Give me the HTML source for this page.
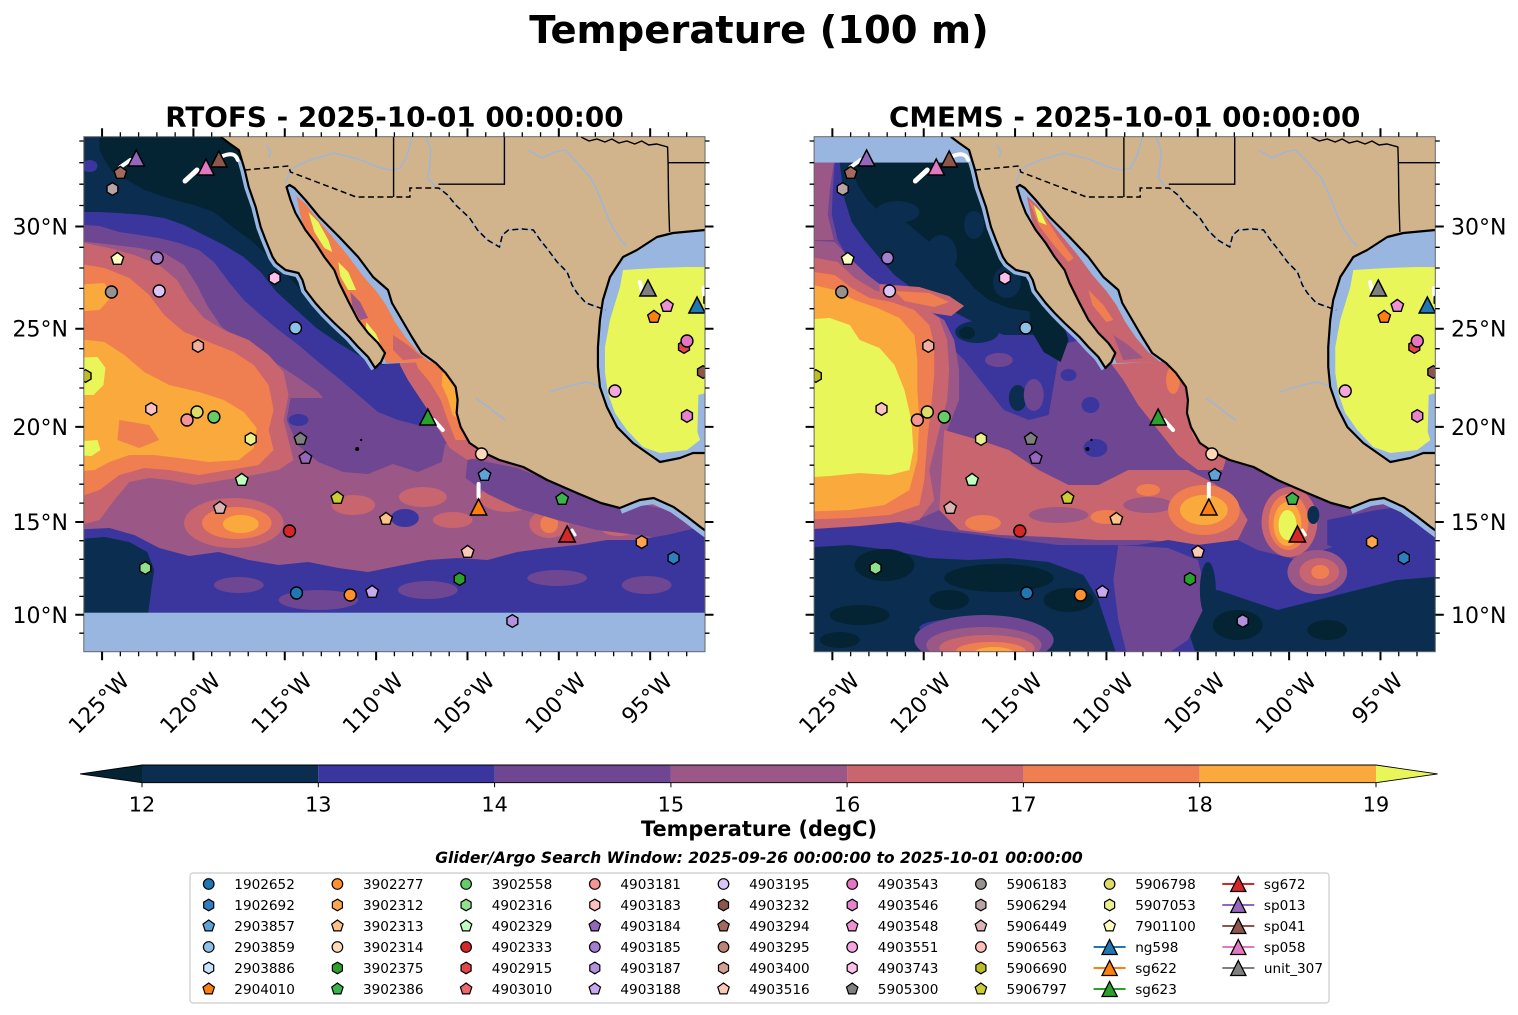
<!DOCTYPE html>
<html><head><meta charset="utf-8">
<style>
html,body{margin:0;padding:0;background:#fff}
svg{display:block}
text{font-family:"DejaVu Sans","Liberation Sans",sans-serif;fill:#000}
</style></head>
<body>
<svg width="1518" height="1015" viewBox="0 0 1518 1015">
<defs>
<clipPath id="cL"><rect x="83.8" y="136.7" width="621.2" height="515"/></clipPath>
<clipPath id="cR"><rect x="814.1" y="136.7" width="621.2" height="515"/></clipPath>
<circle id="c" r="6" stroke="#000" stroke-width="1.4"/>
<polygon id="h" points="0,-6.3 5.46,-3.15 5.46,3.15 0,6.3 -5.46,3.15 -5.46,-3.15" stroke="#000" stroke-width="1.4"/>
<polygon id="p" points="0,-6.6 6.28,-2.04 3.88,5.34 -3.88,5.34 -6.28,-2.04" stroke="#000" stroke-width="1.4"/>
<polygon id="t" points="0,-8 8.2,8 -8.2,8" stroke="#000" stroke-width="1.5"/>
<circle id="lc" r="5.3" stroke="#000" stroke-width="1.2"/>
<polygon id="lh" points="0,-5.8 5.02,-2.9 5.02,2.9 0,5.8 -5.02,2.9 -5.02,-2.9" stroke="#000" stroke-width="1.2"/>
<polygon id="lp" points="0,-6 5.71,-1.85 3.53,4.85 -3.53,4.85 -5.71,-1.85" stroke="#000" stroke-width="1.2"/>
<polygon id="lt" points="0,-7.5 7.6,7.5 -7.6,7.5" stroke="#000" stroke-width="1.3"/>
</defs>

<!-- Titles -->
<text x="759" y="43" font-size="38.5" font-weight="bold" text-anchor="middle">Temperature (100 m)</text>
<text x="394.4" y="126.5" font-size="27.8" font-weight="bold" text-anchor="middle">RTOFS - 2025-10-01 00:00:00</text>
<text x="1124.7" y="126.5" font-size="27.8" font-weight="bold" text-anchor="middle">CMEMS - 2025-10-01 00:00:00</text>

<!-- ================= LEFT PANEL (RTOFS) ================= -->
<g clip-path="url(#cL)">
<g transform="scale(0.9949,1)">
<g id="fL">
<rect x="70" y="120" width="660" height="540" fill="#9b5786"/>
<path fill="#6e4692" d="M70,120 L715,120 L715,300 L470,440 L440,445 L420,448 L400,445 L380,440 L355,430 L335,410 L320,392 L300,378 L280,365 L260,352 L240,340 L222,326 L208,305 L198,285 L185,265 L165,253 L140,248 L115,245 L70,240 Z"/>
<path fill="#3a369e" d="M70,120 L715,120 L715,250 L420,425 L400,420 L380,412 L360,395 L340,378 L320,362 L300,345 L280,330 L262,315 L245,300 L230,282 L215,262 L200,250 L180,243 L160,238 L140,235 L120,232 L100,226 L70,224 Z"/>
<path fill="#0b2d50" d="M70,120 L715,120 L715,200 L385,365 L360,355 L340,343 L318,328 L298,310 L278,292 L262,272 L245,257 L225,245 L205,235 L185,225 L165,218 L145,215 L120,213 L100,212 L70,212 Z"/>
<path fill="#042333" d="M100,120 L300,120 L345,330 L332,322 L315,305 L298,285 L282,268 L268,255 L252,240 L235,228 L215,212 L195,205 L175,200 L160,195 L145,190 L128,180 L113,172 L105,160 L100,150 Z"/>
<ellipse cx="90" cy="166" rx="8" ry="6" fill="#3a369e"/>
<path fill="#6e4692" d="M292,398 L330,398 L370,418 L405,430 L432,426 L448,442 L444,462 L420,472 L395,464 L370,474 L345,472 L320,462 L300,446 L288,420 Z"/>
<ellipse cx="300" cy="420" rx="10" ry="6" fill="#3a369e"/>
<path fill="#c9656e" d="M70,240 L110,248 L135,255 L160,265 L178,280 L190,300 L205,318 L225,330 L250,340 L270,355 L285,372 L290,395 L285,420 L290,440 L295,460 L280,470 L255,475 L225,480 L195,485 L170,480 L150,478 L130,482 L115,500 L100,520 L70,528 Z"/>
<path fill="#ef7f50" d="M70,262 L105,268 L130,278 L150,295 L165,315 L185,332 L210,342 L235,352 L255,365 L270,385 L275,410 L270,430 L275,450 L260,465 L230,470 L200,475 L170,470 L145,468 L120,475 L100,490 L70,500 Z"/>
<path fill="#faa93d" d="M70,285 L105,283 L112,297 L100,310 L70,312 Z"/>
<path fill="#faa93d" d="M70,338 L105,342 L125,355 L145,372 L170,385 L200,392 L225,400 L245,412 L258,428 L255,448 L240,460 L210,462 L180,458 L155,455 L130,455 L110,462 L95,470 L70,472 Z"/>
<path fill="#ef7f50" d="M120,420 L150,425 L160,440 L140,448 L118,440 Z"/>
<path fill="#e8f65a" d="M70,358 L98,357 L106,368 L104,385 L94,395 L70,395 Z"/>
<path fill="#e8f65a" d="M70,442 L98,440 L101,450 L92,456 L70,455 Z"/>
<ellipse cx="235" cy="523" rx="50" ry="25" fill="#c9656e"/>
<ellipse cx="238" cy="523" rx="35" ry="16" fill="#ef7f50"/>
<ellipse cx="242" cy="524" rx="18" ry="9" fill="#faa93d"/>
<ellipse cx="510" cy="498" rx="28" ry="14" fill="#c9656e"/>
<ellipse cx="552" cy="524" rx="20" ry="14" fill="#c9656e"/>
<ellipse cx="622" cy="528" rx="18" ry="8" fill="#c9656e"/>
<ellipse cx="425" cy="497" rx="24" ry="10" fill="#c9656e"/>
<ellipse cx="355" cy="505" rx="22" ry="10" fill="#c9656e"/>
<ellipse cx="455" cy="520" rx="20" ry="8" fill="#c9656e"/>
<ellipse cx="552" cy="524" rx="9" ry="9" fill="#ef7f50"/>
<ellipse cx="515" cy="498" rx="10" ry="5" fill="#ef7f50"/>
<ellipse cx="407" cy="518" rx="14" ry="9" fill="#3a369e"/>
<path fill="#6e4692" d="M470,458 L520,468 L560,484 L600,498 L640,503 L690,514 L715,525 L715,545 L680,540 L640,535 L600,530 L560,520 L520,508 L490,494 L468,478 Z"/>
<path fill="#3a369e" d="M70,530 L110,528 L135,535 L160,548 L190,556 L220,552 L250,560 L280,565 L310,562 L340,568 L370,572 L400,566 L430,560 L460,558 L490,560 L520,552 L550,548 L580,545 L610,540 L640,540 L670,535 L700,528 L715,525 L715,620 L70,620 Z"/>
<ellipse cx="320" cy="600" rx="40" ry="10" fill="#6e4692"/>
<ellipse cx="430" cy="590" rx="30" ry="9" fill="#6e4692"/>
<ellipse cx="560" cy="578" rx="30" ry="8" fill="#6e4692"/>
<ellipse cx="650" cy="585" rx="25" ry="9" fill="#6e4692"/>
<ellipse cx="240" cy="585" rx="25" ry="8" fill="#6e4692"/>
<path fill="#0b2d50" d="M70,540 L105,537 L130,542 L148,552 L155,570 L152,590 L148,620 L70,620 Z"/>
<path fill="#c9656e" d="M400,345 L425,352 L445,368 L462,390 L470,415 L476,440 L492,455 L470,460 L452,448 L440,428 L430,410 L420,395 L410,380 L402,365 Z"/>
<path fill="#ef7f50" d="M415,352 L440,362 L455,380 L463,400 L466,420 L468,440 L458,440 L450,420 L443,400 L432,382 L420,368 Z"/>
<path fill="#faa93d" d="M445,372 L456,385 L461,402 L462,420 L455,415 L450,398 L444,385 Z"/>
<rect x="70" y="612.7" width="660" height="50" fill="#98b6df"/>
</g>
<g id="gcBlue"><path fill="#98b6df" d="M282,183 L296,183 L312,197 L327,214 L347,234 L366,254 L381,274 L396,287 L400,300 L410,317 L420,334 L430,350 L444,361 L384,364 L380,356 L374,346 L364,336 L354,323 L345,306 L335,286 L330,273 L320,260 L311,246 L301,233 L291,216 L286,202 Z"/></g>
<path fill="#ef7f50" d="M298,196 L308,205 L320,220 L335,238 L350,256 L364,275 L378,291 L388,305 L397,322 L408,338 L420,352 L432,362 L388,363 L384,352 L375,340 L365,326 L354,308 L344,290 L334,273 L322,256 L311,238 L303,220 Z"/>
<path fill="#e8f65a" d="M310,212 L320,222 L330,240 L334,252 L326,248 L316,232 Z M340,262 L350,272 L358,290 L350,290 L342,276 Z M368,322 L378,334 L384,348 L376,346 L368,333 Z"/>
<path fill="#9b5786" d="M352,292 L362,302 L370,318 L362,320 L354,306 Z"/>
<path fill="#c9656e" d="M395,335 L410,345 L425,358 L405,360 L395,350 Z"/>

<g id="landG">
<rect x="590" y="220" width="130" height="250" fill="#98b6df"/>
<path fill="#e8f65a" d="M626.2,270 L660,268 L690,267 L720,267 L720,390 L702,395 L701,432 L703.6,440 L690.5,450 L663.4,453 L646.3,447 L630.2,430 L618.1,413 L611.1,393 L608.1,373 L608.1,347 L613.1,320 L623.2,287 Z"/>
<path fill="none" stroke="#98b6df" stroke-width="9" d="M243,160 L246,170 L250,187 L257,207 L262,227 L267,240 L274,257 L278,263 L287,270 L300,273 L304,280 L307,290 L317,303 L326,313 L336,323 L351,337 L360,347 L370,357 L377,368"/>
<path fill="none" stroke="#98b6df" stroke-width="12" d="M623,508 L643,500 L657,498 L677,507 L691,517 L704,527 L715,535"/>
<path fill="#d1b48c" d="M222,130 L222,137 L230,143 L240,150 L243,160 L246,170 L250,187 L257,207 L262,227 L267,240 L274,257 L278,263 L287,270 L300,273 L304,280 L307,290 L317,303 L326,313 L336,323 L351,337 L360,347 L370,357 L377,368 L383,362 L387,353 L380,343 L370,333 L360,320 L351,303 L341,283 L336,270 L326,257 L317,243 L307,230 L297,213 L292,200 L288,187 L291,185 L296,188 L307,200 L321,217 L341,237 L360,257 L375,277 L390,290 L394,303 L404,320 L414,337 L424,353 L438,363 L448,373 L458,387 L460,400 L459,413 L463,427 L472,443 L487,453 L502,460 L526,467 L550,480 L580,493 L604,503 L623,508 L643,500 L657,498 L677,507 L691,517 L704,527 L715,535 L715,453 L708.6,453 L696.5,453 L683.5,458 L663.4,462 L656.3,457 L636.2,443 L620.2,427 L610,407 L603,387 L601,367 L601,347 L603,320 L606,300 L613.1,277 L626.2,257 L640.2,250 L660.3,237 L676.4,233 L708.6,230 L715,230 L715,130 Z"/>
<g fill="none" stroke="#99b6df" stroke-width="1.4">
<path d="M287,183 L292,170 L300,165 L312,160 L336,153 L360,159 L380,167 L392,170 L402,168 L408,158 L412,146 L414,137"/>
<path d="M268,145 L272,152 L270,158"/>
<path d="M428,137 L433,150 L432,165 L430,178 L438,187"/>
<path d="M531,150 L545,158 L558,152 L568,150 L576,158 L585,168 L594,178 L600,190 L604,200 L610,215 L616,228 L624,240 L630,246"/>
<path d="M553,392 L565,388 L580,384 L590,382 L602,386"/>
<path d="M478,398 L488,405 L497,412 L508,420"/>
<path d="M441,188 L450,195 L458,205 L472,218 L480,230 L490,240 L502,247 L505,235 L511,230 L525,229 L536,230 L543,240 L551,250 L560,262 L570,272 L575,285 L580,293 L589,303 L609,310"/>
</g>
<g fill="none" stroke="#000" stroke-width="1.4">
<path d="M395.6,130 L395.6,197"/>
<path d="M440.7,184.2 L507,184.2 L507,130"/>
<path d="M584,137 L592,141 L600,139 L608,142 L615,139 L622,143 L630,141 L638,144 L645,141 L652,145 L660,144 L671,147 L671.5,162.7 L715,162.7"/>
<path d="M671.5,162.7 L672,200 L673,232"/>
</g>
<path fill="none" stroke="#000" stroke-width="1.5" stroke-dasharray="6,3.5" d="M246,170 L290,166 L292,172 L358,197 L412,197 L412,188 L441,188 L450,195 L458,205 L472,218 L480,230 L490,240 L502,247 L505,235 L511,230 L525,229 L536,230 L543,240 L551,250 L560,262 L570,272 L575,285 L580,293 L589,303 L609,310"/>
<path fill="none" stroke="#000" stroke-width="2.2" stroke-linejoin="round" d="M222,130 L222,137 L230,143 L240,150 L243,160 L246,170 L250,187 L257,207 L262,227 L267,240 L274,257 L278,263 L287,270 L300,273 L304,280 L307,290 L317,303 L326,313 L336,323 L351,337 L360,347 L370,357 L377,368 L383,362 L387,353 L380,343 L370,333 L360,320 L351,303 L341,283 L336,270 L326,257 L317,243 L307,230 L297,213 L292,200 L288,187 L291,185 L296,188 L307,200 L321,217 L341,237 L360,257 L375,277 L390,290 L394,303 L404,320 L414,337 L424,353 L438,363 L448,373 L458,387 L460,400 L459,413 L463,427 L472,443 L487,453 L502,460 L526,467 L550,480 L580,493 L604,503 L623,508 L643,500 L657,498 L677,507 L691,517 L704,527 L715,535"/>
<path fill="none" stroke="#000" stroke-width="2.2" stroke-linejoin="round" d="M715,453 L708.6,453 L696.5,453 L683.5,458 L663.4,462 L656.3,457 L636.2,443 L620.2,427 L610,407 L603,387 L601,367 L601,347 L603,320 L606,300 L613.1,277 L626.2,257 L640.2,250 L660.3,237 L676.4,233 L708.6,230 L715,230"/>
</g>

<g id="mk">
<g fill="none" stroke="#fff" stroke-width="4" stroke-linecap="round">
<path d="M121,167 L131,160"/><path d="M186,181 L198,170" stroke-width="5"/><path d="M224,156 Q236,151 239,160"/>
<path d="M436,420 L445,430"/><path d="M481,484 L481,497"/><path d="M575,530 L578,535" stroke-width="3"/>
<path d="M643,282 L645,290"/><path d="M707,288 L708,298"/>
</g>
<circle cx="359" cy="449" r="2" fill="#000"/><circle cx="363" cy="440" r="1.2" fill="#000"/>
<use href="#h" x="113" y="189" fill="#b8a4a4"/>
<use href="#p" x="121" y="173" fill="#a26a5e"/>
<use href="#p" x="118" y="259" fill="#ffffc0"/>
<use href="#c" x="158" y="258" fill="#a27fcf"/>
<use href="#c" x="112" y="292" fill="#999090"/>
<use href="#c" x="160" y="291" fill="#dcc4f8"/>
<use href="#h" x="276" y="278" fill="#fbbfe9"/>
<use href="#c" x="297" y="328" fill="#8ec1e8"/>
<use href="#h" x="199" y="346" fill="#f0b0a0"/>
<use href="#h" x="86" y="376" fill="#bcbd22"/>
<use href="#p" x="670.4" y="306" fill="#ee92d4"/>
<use href="#p" x="657.3" y="317" fill="#ff7f0e"/>
<use href="#h" x="713" y="300" fill="#ff9030"/>
<use href="#h" x="687.5" y="347" fill="#e0474a"/>
<use href="#c" x="690.5" y="341" fill="#e377c2"/>
<use href="#h" x="706.6" y="372" fill="#8c564b"/>
<use href="#c" x="618.1" y="391" fill="#f5a6df"/>
<use href="#h" x="690.5" y="416" fill="#e884cb"/>
<use href="#h" x="152" y="409" fill="#ffc0c0"/>
<use href="#c" x="188" y="420" fill="#f59595"/>
<use href="#c" x="198" y="412" fill="#dcdc66"/>
<use href="#c" x="215" y="417" fill="#66cc66"/>
<use href="#h" x="252" y="439" fill="#ebf08c"/>
<use href="#p" x="302" y="439" fill="#7f7f7f"/>
<use href="#p" x="307" y="458" fill="#9467bd"/>
<use href="#c" x="484" y="454" fill="#ffdab9"/>
<use href="#p" x="487" y="475" fill="#5fa2d8"/>
<use href="#p" x="243" y="480" fill="#bfffbf"/>
<use href="#p" x="221" y="508" fill="#dcb4b4"/>
<use href="#p" x="339" y="498" fill="#cccc33"/>
<use href="#p" x="388" y="519" fill="#ffc18a"/>
<use href="#c" x="291" y="531" fill="#d62728"/>
<use href="#p" x="565" y="499" fill="#3cb44b"/>
<use href="#h" x="645" y="542" fill="#ffa550"/>
<use href="#p" x="470" y="552" fill="#fcc8b8"/>
<use href="#h" x="677" y="558" fill="#2f7fc0"/>
<use href="#h" x="146" y="568" fill="#8fe08f"/>
<use href="#h" x="462" y="579" fill="#2ca02c"/>
<use href="#c" x="298" y="593" fill="#1f77b4"/>
<use href="#c" x="352" y="595" fill="#ff9030"/>
<use href="#p" x="374" y="592" fill="#c8a8f0"/>
<use href="#h" x="515" y="621" fill="#b490dd"/>
<use href="#t" x="137" y="158" fill="#9467bd"/>
<use href="#t" x="207" y="167" fill="#e377c2"/>
<use href="#t" x="220" y="159" fill="#8c564b"/>
<use href="#t" x="651.3" y="288" fill="#7f7f7f"/>
<use href="#t" x="700.6" y="305" fill="#1f77b4"/>
<use href="#t" x="430" y="417" fill="#2ca02c"/>
<use href="#t" x="481" y="507" fill="#ff7f0e"/>
<use href="#t" x="570" y="534" fill="#d62728"/>
</g>
</g>
</g>

<!-- ================= RIGHT PANEL (CMEMS) ================= -->
<g clip-path="url(#cR)">
<g transform="translate(730.3,0) scale(0.9949,1)">
<g transform="translate(-730,0)">
<rect x="800" y="120" width="660" height="540" fill="#6e4692"/>
<rect x="800" y="120" width="660" height="42.7" fill="#98b6df"/>
<path fill="#9b5786" d="M800,162.7 L834,162.7 L830,190 L828,215 L834,240 L800,240 Z"/>
<path fill="#3a369e" d="M835,162.7 L1160,162.7 L1160,330 L1100,335 L1062,345 L1056,380 L1050,415 L1030,420 L1005,410 L985,385 L965,360 L950,345 L935,335 L915,322 L895,305 L875,290 L860,275 L848,258 L838,240 L832,215 L833,190 Z"/>
<path fill="#0b2d50" d="M840,162.7 L1110,162.7 L1110,320 L1060,330 L1035,335 L1005,335 L980,325 L955,312 L935,300 L915,290 L895,275 L880,258 L865,240 L852,222 L845,200 L842,180 Z"/>
<path fill="#042333" d="M850,162.7 L1070,162.7 L1070,310 L1035,312 L1010,308 L990,300 L975,288 L960,270 L945,252 L925,238 L910,225 L895,215 L880,212 L868,200 L858,185 Z"/>
<ellipse cx="898" cy="212" rx="22" ry="11" fill="#0b2d50"/>
<ellipse cx="942" cy="255" rx="16" ry="20" fill="#0b2d50"/>
<ellipse cx="1008" cy="282" rx="14" ry="16" fill="#0b2d50"/>
<ellipse cx="975" cy="225" rx="10" ry="14" fill="#0b2d50"/>
<path fill="#042333" d="M1030,300 L1060,310 L1070,340 L1062,362 L1045,352 L1032,330 Z"/>
<ellipse cx="978" cy="332" rx="22" ry="11" fill="#0b2d50"/>
<ellipse cx="968" cy="333" rx="8" ry="6" fill="#042333"/>
<ellipse cx="1019" cy="398" rx="9" ry="13" fill="#0b2d50"/>
<ellipse cx="1000" cy="360" rx="14" ry="7" fill="#6e4692"/>
<ellipse cx="1035" cy="395" rx="10" ry="16" fill="#6e4692"/>
<ellipse cx="1092" cy="405" rx="9" ry="8" fill="#3a369e"/>
<ellipse cx="1097" cy="448" rx="12" ry="9" fill="#3a369e"/>
<ellipse cx="1070" cy="375" rx="8" ry="6" fill="#3a369e"/>
<path fill="#9b5786" d="M800,240 L835,242 L850,258 L868,275 L888,290 L908,302 L928,310 L945,320 L955,340 L960,370 L960,400 L948,430 L945,470 L940,510 L900,528 L850,533 L800,538 Z"/>
<path fill="#c9656e" d="M800,255 L838,262 L855,278 L875,290 L898,298 L920,305 L940,318 L948,340 L950,370 L948,400 L940,430 L930,470 L935,500 L920,520 L880,525 L840,528 L800,530 Z"/>
<path fill="#c9656e" d="M880,284 L920,287 L950,296 L965,306 L952,316 L925,312 L900,306 L880,298 Z"/>
<path fill="#ef7f50" d="M800,270 L835,275 L852,288 L870,298 L892,302 L915,310 L930,325 L935,345 L935,375 L932,405 L928,440 L925,480 L920,505 L890,515 L850,518 L800,520 Z"/>
<path fill="#ef7f50" d="M895,291 L930,293 L950,302 L935,307 L905,301 Z"/>
<path fill="#faa93d" d="M800,282 L835,290 L855,300 L878,308 L900,318 L915,335 L918,360 L918,390 L920,420 L918,460 L910,490 L885,505 L850,510 L800,512 Z"/>
<path fill="#e8f65a" d="M800,320 L830,318 L850,325 L860,340 L880,348 L895,365 L905,390 L912,420 L914,450 L910,470 L890,475 L860,473 L830,476 L800,478 Z"/>
<path fill="#c9656e" d="M945,430 L980,440 L1010,450 L1040,470 L1070,485 L1100,485 L1130,470 L1160,470 L1190,470 L1210,480 L1235,495 L1250,520 L1240,540 L1200,545 L1150,540 L1100,540 L1050,537 L1000,535 L960,530 L940,510 Z"/>
<ellipse cx="1060" cy="515" rx="30" ry="8" fill="#9b5786"/>
<ellipse cx="1150" cy="505" rx="25" ry="8" fill="#9b5786"/>
<ellipse cx="984" cy="523" rx="18" ry="8" fill="#ef7f50"/>
<ellipse cx="1108" cy="517" rx="16" ry="7" fill="#ef7f50"/>
<ellipse cx="1150" cy="490" rx="12" ry="6" fill="#ef7f50"/>
<path fill="#c9656e" d="M1114,300 L1140,320 L1165,345 L1185,370 L1200,395 L1215,420 L1234,440 L1225,470 L1200,470 L1180,455 L1160,430 L1140,405 L1125,380 L1110,360 L1105,330 Z"/>
<ellipse cx="1150" cy="345" rx="8" ry="12" fill="#ef7f50"/>
<ellipse cx="1175" cy="380" rx="7" ry="14" fill="#ef7f50"/>
<ellipse cx="1200" cy="430" rx="6" ry="10" fill="#ef7f50"/>
<path fill="#3a369e" d="M1330,520 L1380,510 L1420,505 L1460,500 L1460,560 L1400,560 L1360,555 L1330,545 Z"/>
<path fill="#3a369e" d="M800,530 L860,526 L900,522 L940,530 L980,535 L1020,540 L1060,545 L1100,545 L1140,545 L1170,540 L1200,545 L1240,540 L1260,550 L1300,560 L1340,545 L1380,540 L1460,530 L1460,660 L800,660 Z"/>
<path fill="#0b2d50" d="M800,548 L850,545 L890,550 L930,558 L970,560 L1010,558 L1050,562 L1085,575 L1100,600 L1110,630 L1120,660 L800,660 Z"/>
<path fill="#0b2d50" d="M1180,600 L1220,590 L1250,600 L1280,610 L1320,600 L1360,590 L1400,580 L1460,575 L1460,660 L1200,660 Z"/>
<ellipse cx="885" cy="565" rx="30" ry="16" fill="#042333"/>
<ellipse cx="1000" cy="578" rx="55" ry="14" fill="#042333"/>
<ellipse cx="1070" cy="600" rx="25" ry="12" fill="#042333"/>
<ellipse cx="860" cy="615" rx="30" ry="10" fill="#042333"/>
<ellipse cx="950" cy="600" rx="20" ry="10" fill="#042333"/>
<ellipse cx="1240" cy="625" rx="25" ry="15" fill="#042333"/>
<ellipse cx="1330" cy="630" rx="20" ry="10" fill="#042333"/>
<ellipse cx="840" cy="640" rx="20" ry="8" fill="#042333"/>
<ellipse cx="960" cy="628" rx="40" ry="9" fill="#3a369e"/>
<path fill="#6e4692" d="M1120,545 L1170,548 L1200,560 L1210,600 L1190,640 L1160,660 L1130,660 L1120,620 L1115,580 Z"/>
<ellipse cx="1210" cy="590" rx="8" ry="28" fill="#0b2d50"/>
<ellipse cx="985" cy="640" rx="70" ry="25" fill="#6e4692"/>
<ellipse cx="985" cy="645" rx="58" ry="18" fill="#9b5786"/>
<ellipse cx="988" cy="648" rx="48" ry="13" fill="#c9656e"/>
<ellipse cx="992" cy="651" rx="35" ry="9" fill="#ef7f50"/>
<ellipse cx="995" cy="653" rx="20" ry="6" fill="#faa93d"/>
<ellipse cx="1320" cy="572" rx="30" ry="22" fill="#9b5786"/>
<ellipse cx="1322" cy="572" rx="20" ry="14" fill="#c9656e"/>
<ellipse cx="1323" cy="572" rx="9" ry="7" fill="#ef7f50"/>
<ellipse cx="1206" cy="510" rx="36" ry="25" fill="#ef7f50"/>
<ellipse cx="1206" cy="510" rx="24" ry="15" fill="#faa93d"/>
<ellipse cx="1292" cy="522" rx="28" ry="35" fill="#c9656e"/>
<ellipse cx="1291" cy="522" rx="20" ry="28" fill="#ef7f50"/>
<ellipse cx="1290" cy="524" rx="14" ry="22" fill="#faa93d"/>
<ellipse cx="1290" cy="525" rx="9" ry="15" fill="#e8f65a"/>
<ellipse cx="1316" cy="515" rx="6" ry="9" fill="#0b2d50"/>
</g>
<use href="#gcBlue"/>
<path fill="#c9656e" d="M298,196 L308,205 L320,220 L335,238 L350,256 L364,275 L378,291 L388,305 L397,322 L408,338 L420,352 L432,362 L388,363 L384,352 L375,340 L365,326 L354,308 L344,290 L334,273 L322,256 L311,238 L303,220 Z"/>
<path fill="#ef7f50" d="M300,200 L315,215 L330,238 L345,258 L340,262 L325,245 L310,225 Z M360,290 L375,305 L385,320 L378,322 L364,305 Z"/>
<path fill="#e8f65a" d="M305,205 L312,212 L318,225 L310,222 Z"/>
<path fill="#9b5786" d="M385,335 L400,345 L415,358 L395,360 Z"/>
<use href="#landG"/>
<use href="#mk"/>
</g>
</g>

<!-- frames -->
<rect x="83.8" y="136.7" width="621.2" height="515" fill="none" stroke="#666" stroke-width="1"/>
<rect x="814.1" y="136.7" width="621.2" height="515" fill="none" stroke="#666" stroke-width="1"/>

<!-- ticks -->
<g id="ticksL" stroke="#000" fill="none">
<path stroke-width="2" d="M102.07 136.7v-8.5M193.42 136.7v-8.5M284.77 136.7v-8.5M376.12 136.7v-8.5M467.47 136.7v-8.5M558.82 136.7v-8.5M650.17 136.7v-8.5M102.07 651.7v8.5M193.42 651.7v8.5M284.77 651.7v8.5M376.12 651.7v8.5M467.47 651.7v8.5M558.82 651.7v8.5M650.17 651.7v8.5M83.8 226.5h-8.5M83.8 328.7h-8.5M83.8 426.9h-8.5M83.8 522h-8.5M83.8 614.8h-8.5M705 226.5h8.5M705 328.7h8.5M705 426.9h8.5M705 522h8.5M705 614.8h8.5"/>
<path stroke-width="1.3" d="M120.34 136.7v-4.5M138.61 136.7v-4.5M156.88 136.7v-4.5M175.15 136.7v-4.5M211.69 136.7v-4.5M229.96 136.7v-4.5M248.23 136.7v-4.5M266.5 136.7v-4.5M303.04 136.7v-4.5M321.31 136.7v-4.5M339.58 136.7v-4.5M357.85 136.7v-4.5M394.39 136.7v-4.5M412.66 136.7v-4.5M430.93 136.7v-4.5M449.2 136.7v-4.5M485.74 136.7v-4.5M504.01 136.7v-4.5M522.28 136.7v-4.5M540.55 136.7v-4.5M577.09 136.7v-4.5M595.36 136.7v-4.5M613.63 136.7v-4.5M631.9 136.7v-4.5M668.44 136.7v-4.5M686.71 136.7v-4.5
M120.34 651.7v4.5M138.61 651.7v4.5M156.88 651.7v4.5M175.15 651.7v4.5M211.69 651.7v4.5M229.96 651.7v4.5M248.23 651.7v4.5M266.5 651.7v4.5M303.04 651.7v4.5M321.31 651.7v4.5M339.58 651.7v4.5M357.85 651.7v4.5M394.39 651.7v4.5M412.66 651.7v4.5M430.93 651.7v4.5M449.2 651.7v4.5M485.74 651.7v4.5M504.01 651.7v4.5M522.28 651.7v4.5M540.55 651.7v4.5M577.09 651.7v4.5M595.36 651.7v4.5M613.63 651.7v4.5M631.9 651.7v4.5M668.44 651.7v4.5M686.71 651.7v4.5
M83.8 141h-4.5M83.8 162.7h-4.5M83.8 184.2h-4.5M83.8 205.5h-4.5M83.8 247.3h-4.5M83.8 268h-4.5M83.8 288.4h-4.5M83.8 308.7h-4.5M83.8 348.7h-4.5M83.8 368.4h-4.5M83.8 388h-4.5M83.8 407.5h-4.5M83.8 446.1h-4.5M83.8 465.2h-4.5M83.8 484.2h-4.5M83.8 503.1h-4.5M83.8 540.7h-4.5M83.8 559.3h-4.5M83.8 577.9h-4.5M83.8 596.4h-4.5M83.8 633.2h-4.5
M705 141h4.5M705 162.7h4.5M705 184.2h4.5M705 205.5h4.5M705 247.3h4.5M705 268h4.5M705 288.4h4.5M705 308.7h4.5M705 348.7h4.5M705 368.4h4.5M705 388h4.5M705 407.5h4.5M705 446.1h4.5M705 465.2h4.5M705 484.2h4.5M705 503.1h4.5M705 540.7h4.5M705 559.3h4.5M705 577.9h4.5M705 596.4h4.5M705 633.2h4.5"/>
</g>
<use href="#ticksL" transform="translate(730.3,0)"/>

<!-- tick labels -->
<g font-size="22">
<text x="68" y="234.5" text-anchor="end">30°N</text>
<text x="68" y="336.7" text-anchor="end">25°N</text>
<text x="68" y="434.9" text-anchor="end">20°N</text>
<text x="68" y="530" text-anchor="end">15°N</text>
<text x="68" y="622.8" text-anchor="end">10°N</text>
<text x="1451" y="234.5">30°N</text>
<text x="1451" y="336.7">25°N</text>
<text x="1451" y="434.9">20°N</text>
<text x="1451" y="530">15°N</text>
<text x="1451" y="622.8">10°N</text>
<g text-anchor="middle" dominant-baseline="central">
<text transform="translate(99.6,704) rotate(-45)">125°W</text>
<text transform="translate(190.9,704) rotate(-45)">120°W</text>
<text transform="translate(282.3,704) rotate(-45)">115°W</text>
<text transform="translate(373.6,704) rotate(-45)">110°W</text>
<text transform="translate(465,704) rotate(-45)">105°W</text>
<text transform="translate(556.3,704) rotate(-45)">100°W</text>
<text transform="translate(647.7,699) rotate(-45)">95°W</text>
<text transform="translate(829.9,704) rotate(-45)">125°W</text>
<text transform="translate(921.2,704) rotate(-45)">120°W</text>
<text transform="translate(1012.6,704) rotate(-45)">115°W</text>
<text transform="translate(1103.9,704) rotate(-45)">110°W</text>
<text transform="translate(1195.3,704) rotate(-45)">105°W</text>
<text transform="translate(1286.6,704) rotate(-45)">100°W</text>
<text transform="translate(1378,699) rotate(-45)">95°W</text>
</g>
</g>

<!-- colorbar -->
<g>
<polygon points="80.1,773.9 142,765 142,782.7" fill="#042333"/>
<rect x="142" y="765" width="176.3" height="17.7" fill="#0b2d50"/>
<rect x="318.3" y="765" width="176.3" height="17.7" fill="#3a369e"/>
<rect x="494.6" y="765" width="176.3" height="17.7" fill="#6e4692"/>
<rect x="670.9" y="765" width="176.3" height="17.7" fill="#9b5786"/>
<rect x="847.1" y="765" width="176.3" height="17.7" fill="#c9656e"/>
<rect x="1023.4" y="765" width="176.3" height="17.7" fill="#ef7f50"/>
<rect x="1199.7" y="765" width="176.3" height="17.7" fill="#faa93d"/>
<polygon points="1376,765 1437.6,773.9 1376,782.7" fill="#e8f65a"/>
<polygon points="80.1,773.9 142,765 1376,765 1437.6,773.9 1376,782.7 142,782.7" fill="none" stroke="#000" stroke-width="0.9"/>
<path stroke="#000" stroke-width="1" d="M142 782.7v4.5M318.3 782.7v4.5M494.6 782.7v4.5M670.9 782.7v4.5M847.1 782.7v4.5M1023.4 782.7v4.5M1199.7 782.7v4.5M1376 782.7v4.5"/>
<g font-size="20.8" text-anchor="middle">
<text x="142" y="811.5">12</text><text x="318.3" y="811.5">13</text><text x="494.6" y="811.5">14</text><text x="670.9" y="811.5">15</text>
<text x="847.1" y="811.5">16</text><text x="1023.4" y="811.5">17</text><text x="1199.7" y="811.5">18</text><text x="1376" y="811.5">19</text>
</g>
<text x="759" y="836" font-size="20.9" font-weight="bold" text-anchor="middle">Temperature (degC)</text>
<text x="759" y="863" font-size="15.6" font-weight="bold" font-style="italic" text-anchor="middle">Glider/Argo Search Window: 2025-09-26 00:00:00 to 2025-10-01 00:00:00</text>
</g>

<!-- legend -->
<rect x="190" y="873" width="1139" height="130" rx="3" fill="#fff" stroke="#cccccc" stroke-width="1.2"/>
<g font-size="13.6">
<use href="#lc" x="208.7" y="884" fill="#1f77b4"/><text x="234.3" y="889">1902652</text>
<use href="#lh" x="208.7" y="905" fill="#2f7fc0"/><text x="234.3" y="910">1902692</text>
<use href="#lp" x="208.7" y="926" fill="#5fa2d8"/><text x="234.3" y="931">2903857</text>
<use href="#lc" x="208.7" y="947" fill="#8ec1e8"/><text x="234.3" y="952">2903859</text>
<use href="#lh" x="208.7" y="968" fill="#c6e3fb"/><text x="234.3" y="973">2903886</text>
<use href="#lp" x="208.7" y="989" fill="#ff7f0e"/><text x="234.3" y="994">2904010</text>

<use href="#lc" x="337.4" y="884" fill="#ff9030"/><text x="363" y="889">3902277</text>
<use href="#lh" x="337.4" y="905" fill="#ffa550"/><text x="363" y="910">3902312</text>
<use href="#lp" x="337.4" y="926" fill="#ffc18a"/><text x="363" y="931">3902313</text>
<use href="#lc" x="337.4" y="947" fill="#ffdab9"/><text x="363" y="952">3902314</text>
<use href="#lh" x="337.4" y="968" fill="#2ca02c"/><text x="363" y="973">3902375</text>
<use href="#lp" x="337.4" y="989" fill="#3cb44b"/><text x="363" y="994">3902386</text>

<use href="#lc" x="466.1" y="884" fill="#66cc66"/><text x="491.7" y="889">3902558</text>
<use href="#lh" x="466.1" y="905" fill="#8fe08f"/><text x="491.7" y="910">4902316</text>
<use href="#lp" x="466.1" y="926" fill="#bfffbf"/><text x="491.7" y="931">4902329</text>
<use href="#lc" x="466.1" y="947" fill="#d62728"/><text x="491.7" y="952">4902333</text>
<use href="#lh" x="466.1" y="968" fill="#e0474a"/><text x="491.7" y="973">4902915</text>
<use href="#lp" x="466.1" y="989" fill="#ec6a6a"/><text x="491.7" y="994">4903010</text>

<use href="#lc" x="594.8" y="884" fill="#f59595"/><text x="620.4" y="889">4903181</text>
<use href="#lh" x="594.8" y="905" fill="#ffc0c0"/><text x="620.4" y="910">4903183</text>
<use href="#lp" x="594.8" y="926" fill="#9467bd"/><text x="620.4" y="931">4903184</text>
<use href="#lc" x="594.8" y="947" fill="#a27fcf"/><text x="620.4" y="952">4903185</text>
<use href="#lh" x="594.8" y="968" fill="#b490dd"/><text x="620.4" y="973">4903187</text>
<use href="#lp" x="594.8" y="989" fill="#c8a8f0"/><text x="620.4" y="994">4903188</text>

<use href="#lc" x="723.5" y="884" fill="#dcc4f8"/><text x="749.1" y="889">4903195</text>
<use href="#lh" x="723.5" y="905" fill="#8c564b"/><text x="749.1" y="910">4903232</text>
<use href="#lp" x="723.5" y="926" fill="#a26a5e"/><text x="749.1" y="931">4903294</text>
<use href="#lc" x="723.5" y="947" fill="#ba8576"/><text x="749.1" y="952">4903295</text>
<use href="#lh" x="723.5" y="968" fill="#d2a090"/><text x="749.1" y="973">4903400</text>
<use href="#lp" x="723.5" y="989" fill="#fcc8b8"/><text x="749.1" y="994">4903516</text>

<use href="#lc" x="852.2" y="884" fill="#e377c2"/><text x="877.8" y="889">4903543</text>
<use href="#lh" x="852.2" y="905" fill="#e884cb"/><text x="877.8" y="910">4903546</text>
<use href="#lp" x="852.2" y="926" fill="#ee92d4"/><text x="877.8" y="931">4903548</text>
<use href="#lc" x="852.2" y="947" fill="#f5a6df"/><text x="877.8" y="952">4903551</text>
<use href="#lh" x="852.2" y="968" fill="#fbbfe9"/><text x="877.8" y="973">4903743</text>
<use href="#lp" x="852.2" y="989" fill="#7f7f7f"/><text x="877.8" y="994">5905300</text>

<use href="#lc" x="980.9" y="884" fill="#999090"/><text x="1006.5" y="889">5906183</text>
<use href="#lh" x="980.9" y="905" fill="#b8a4a4"/><text x="1006.5" y="910">5906294</text>
<use href="#lp" x="980.9" y="926" fill="#dcb4b4"/><text x="1006.5" y="931">5906449</text>
<use href="#lc" x="980.9" y="947" fill="#ffc0bb"/><text x="1006.5" y="952">5906563</text>
<use href="#lh" x="980.9" y="968" fill="#bcbd22"/><text x="1006.5" y="973">5906690</text>
<use href="#lp" x="980.9" y="989" fill="#cccc33"/><text x="1006.5" y="994">5906797</text>

<use href="#lc" x="1109.6" y="884" fill="#dcdc66"/><text x="1135.2" y="889">5906798</text>
<use href="#lh" x="1109.6" y="905" fill="#ebf08c"/><text x="1135.2" y="910">5907053</text>
<use href="#lp" x="1109.6" y="926" fill="#ffffc0"/><text x="1135.2" y="931">7901100</text>
<line x1="1093.6" y1="947" x2="1125.6" y2="947" stroke="#1f77b4" stroke-width="2"/><use href="#lt" x="1109.6" y="947" fill="#1f77b4"/><text x="1135.2" y="952">ng598</text>
<line x1="1093.6" y1="968" x2="1125.6" y2="968" stroke="#ff7f0e" stroke-width="2"/><use href="#lt" x="1109.6" y="968" fill="#ff7f0e"/><text x="1135.2" y="973">sg622</text>
<line x1="1093.6" y1="989" x2="1125.6" y2="989" stroke="#2ca02c" stroke-width="2"/><use href="#lt" x="1109.6" y="989" fill="#2ca02c"/><text x="1135.2" y="994">sg623</text>

<line x1="1222.3" y1="884" x2="1254.3" y2="884" stroke="#d62728" stroke-width="2"/><use href="#lt" x="1238.3" y="884" fill="#d62728"/><text x="1263.9" y="889">sg672</text>
<line x1="1222.3" y1="905" x2="1254.3" y2="905" stroke="#9467bd" stroke-width="2"/><use href="#lt" x="1238.3" y="905" fill="#9467bd"/><text x="1263.9" y="910">sp013</text>
<line x1="1222.3" y1="926" x2="1254.3" y2="926" stroke="#8c564b" stroke-width="2"/><use href="#lt" x="1238.3" y="926" fill="#8c564b"/><text x="1263.9" y="931">sp041</text>
<line x1="1222.3" y1="947" x2="1254.3" y2="947" stroke="#e377c2" stroke-width="2"/><use href="#lt" x="1238.3" y="947" fill="#e377c2"/><text x="1263.9" y="952">sp058</text>
<line x1="1222.3" y1="968" x2="1254.3" y2="968" stroke="#7f7f7f" stroke-width="2"/><use href="#lt" x="1238.3" y="968" fill="#7f7f7f"/><text x="1263.9" y="973">unit_307</text>
</g>
</svg>
</body></html>
